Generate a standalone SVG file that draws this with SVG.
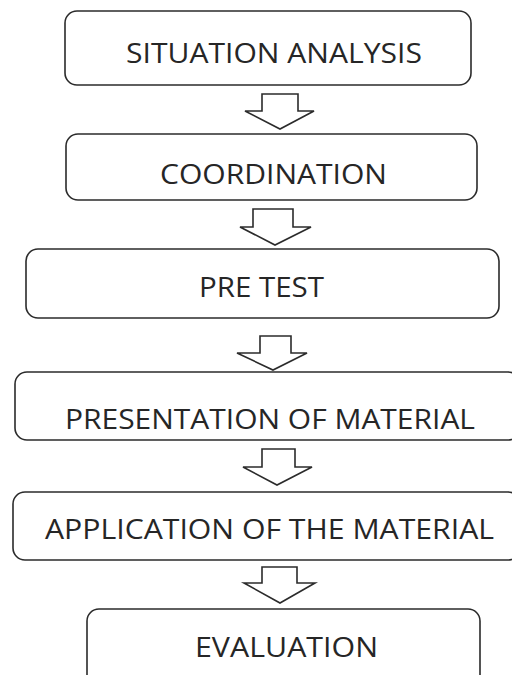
<svg xmlns="http://www.w3.org/2000/svg" width="512" height="675" viewBox="0 0 512 675">
<style>
.box{fill:#fff;stroke:#2b2b2b;stroke-width:1.6}
.arr{fill:#fff;stroke:#2b2b2b;stroke-width:1.6;stroke-linejoin:miter}
.t{font-family:"Open Sans","Liberation Sans",sans-serif;font-size:27px;fill:#262626;text-anchor:start}
</style>
<rect width="512" height="675" fill="#fff"/>
<g id="n1"><rect class="box" x="65" y="11" width="406" height="74" rx="12"/><text class="t" x="126" y="63" textLength="296" lengthAdjust="spacingAndGlyphs">SITUATION ANALYSIS</text></g>
<g id="n2"><rect class="box" x="66" y="134" width="411" height="66" rx="12"/><text class="t" x="160" y="184" textLength="227" lengthAdjust="spacingAndGlyphs">COORDINATION</text></g>
<g id="n3"><rect class="box" x="26" y="249" width="473" height="69" rx="12"/><text class="t" x="199" y="297" textLength="125" lengthAdjust="spacingAndGlyphs">PRE TEST</text></g>
<g id="n4"><rect class="box" x="15" y="372" width="505" height="68" rx="12"/><text class="t" x="65" y="429" textLength="410" lengthAdjust="spacingAndGlyphs">PRESENTATION OF MATERIAL</text></g>
<g id="n5"><rect class="box" x="13" y="492" width="507" height="68" rx="12"/><text class="t" x="45" y="539" textLength="449" lengthAdjust="spacingAndGlyphs">APPLICATION OF THE MATERIAL</text></g>
<g id="n6"><rect class="box" x="87" y="609" width="393" height="80" rx="12"/><text class="t" x="195" y="657" textLength="183" lengthAdjust="spacingAndGlyphs">EVALUATION</text></g>
<g id="connectors">
<polygon class="arr" points="262,94 298,94 298,111 314,111 280,129 245,111 262,111"/>
<polygon class="arr" points="253,209 293,209 293,227 311,227 275,245 240,227 253,227"/>
<polygon class="arr" points="260,336 291,336 291,353 307,353 273,370 237,353 260,353"/>
<polygon class="arr" points="262,449 295,449 295,467 312,467 277,485 243,467 262,467"/>
<polygon class="arr" points="262,567 297,567 297,583 315,583 280,603 244,583 262,583"/>
</g>
</svg>
